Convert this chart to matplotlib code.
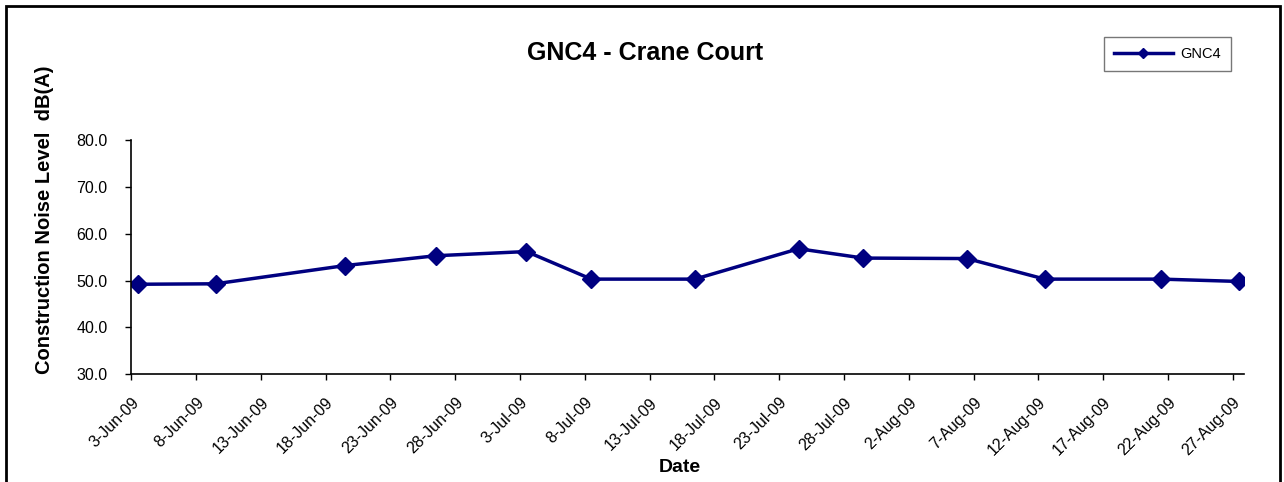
import datetime as dt
import matplotlib
matplotlib.use('Agg')
import matplotlib.pyplot as plt
from matplotlib.patches import Rectangle

# dados
datas = ['2009-06-03', '2009-06-09', '2009-06-19', '2009-06-26', '2009-07-03',
         '2009-07-08', '2009-07-16', '2009-07-24', '2009-07-29', '2009-08-06',
         '2009-08-12', '2009-08-21', '2009-08-27']
gnc4 = [49.2, 49.3, 53.2, 55.3, 56.2, 50.3, 50.3, 56.8, 54.8, 54.7, 50.3, 50.3, 49.8]

plt.rcParams['font.family'] = ['Liberation Sans', 'DejaVu Sans']

inicio = dt.datetime(2009, 6, 3)
fim = dt.datetime(2009, 8, 27, 21)
# Excel desenha os pontos no meio do dia
x = [dt.datetime.strptime(d, '%Y-%m-%d') + dt.timedelta(hours=12) for d in datas]

fig = plt.figure(figsize=(12.84, 4.82), dpi=100)
ax = fig.add_axes([131.3 / 1284, 1 - 374 / 482, (1244 - 131.3) / 1284, (374 - 140.3) / 482])

ax.plot(x, gnc4, color='#000080', linewidth=2.5, marker='D', markersize=9, label='GNC4')

ax.set_ylim(30, 80)
ax.set_yticks([30, 40, 50, 60, 70, 80])
ax.yaxis.set_major_formatter(matplotlib.ticker.FormatStrFormatter('%.1f'))
ax.set_xlim(inicio, fim)
ticks = [inicio + dt.timedelta(days=5 * i) for i in range(18)]
ax.set_xticks(ticks)
ax.set_xticklabels([f'{t.day}-{t.strftime("%b")}-09' for t in ticks], rotation=45,
                   ha='right', rotation_mode='anchor', fontsize=11.5)
ax.tick_params(axis='y', labelsize=11.5, direction='out', length=4, width=1, pad=13)
ax.tick_params(axis='x', direction='out', length=4, width=1, pad=11)
for s in ['top', 'right']:
    ax.spines[s].set_visible(False)
ax.spines['left'].set_linewidth(1.2)
ax.spines['bottom'].set_linewidth(1.2)

fig.text(645 / 1284, 1 - 53 / 482, 'GNC4 - Crane Court', ha='center', va='center',
         fontsize=18, fontweight='bold')
fig.text(45 / 1284, 1 - 220 / 482, 'Construction Noise Level  dB(A)', rotation=90,
         ha='center', va='center', fontsize=14.5, fontweight='bold')
fig.text(680 / 1284, 1 - 467 / 482, 'Date', ha='center', va='center',
         fontsize=14, fontweight='bold')

leg = ax.legend(loc='upper left', bbox_to_anchor=(1104 / 1284, 1 - 37 / 482),
                bbox_transform=fig.transFigure, borderaxespad=0, frameon=True,
                fancybox=False, fontsize=10.5, markerscale=0.6, handlelength=4,
                borderpad=0.7, handletextpad=0.5)
leg.get_frame().set_edgecolor('#555555')
leg.get_frame().set_linewidth(1)

fig.patches.append(Rectangle((6 / 1284, -0.05), 1274 / 1284, 1.05 - 6 / 482,
                             transform=fig.transFigure, fill=False,
                             edgecolor='black', linewidth=2))

plt.savefig('out.png', dpi=100)
